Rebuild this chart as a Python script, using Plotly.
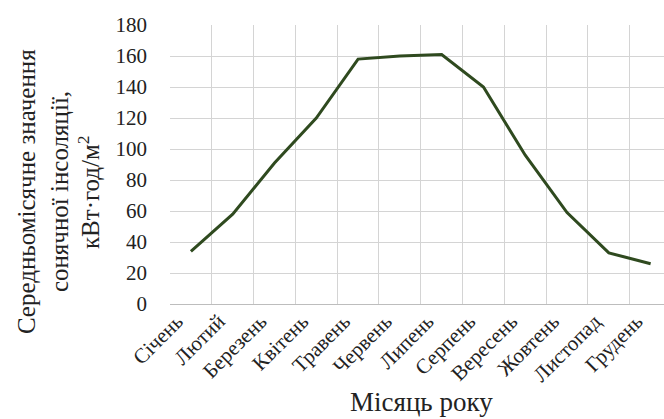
import plotly.graph_objects as go

months = ["Січень", "Лютий", "Березень", "Квітень", "Травень", "Червень",
          "Липень", "Серпень", "Вересень", "Жовтень", "Листопад", "Грудень"]
insolation = [34, 58, 91, 120, 158, 160, 161, 140, 96, 59, 33, 26]
y_ticks = [0, 20, 40, 60, 80, 100, 120, 140, 160, 180]
y_title_lines = ["Середньомісячне значення", "сонячної інсоляції,", "кВт·год/м<sup>2</sup>"]

serif = "Liberation Serif, Times New Roman, serif"
txt = "#222222"

fig = go.Figure()
fig.add_trace(go.Scatter(
    x=months, y=insolation, mode="lines",
    line=dict(color="#2f4a1f", width=3),
    showlegend=False,
))

annotations = []
for line, xs in zip(y_title_lines, [-144, -111, -81]):
    annotations.append(dict(
        text=line, xref="paper", yref="paper", x=0, xshift=xs, y=0.401,
        xanchor="center", yanchor="middle", textangle=-90, showarrow=False,
        font=dict(size=25, family=serif, color=txt)))
annotations.append(dict(
    text="Місяць року", xref="paper", yref="paper",
    x=0, xshift=251, y=0, yshift=-98, xanchor="center", yanchor="middle",
    showarrow=False, font=dict(size=27, family=serif, color=txt)))

fig.update_layout(
    width=664, height=419,
    margin=dict(l=170, r=0, t=25, b=115),
    paper_bgcolor="white", plot_bgcolor="white",
    font=dict(family=serif, color=txt),
    xaxis=dict(
        type="category", tickson="boundaries",
        range=[-0.5, 11.32],
        showgrid=True, gridcolor="#d4d4d4", gridwidth=1,
        showline=False, ticks="",
        tickangle=-45, tickfont=dict(size=21, family=serif),
        ticklabelstandoff=0, ticklabelshift=-14,
    ),
    yaxis=dict(
        range=[0, 180], tickvals=y_ticks,
        showgrid=True, gridcolor="#d4d4d4", gridwidth=1,
        zeroline=True, zerolinecolor="#bdbdbd", zerolinewidth=1,
        showline=False, ticks="",
        tickfont=dict(size=21, family=serif),
        ticklabelstandoff=22,
    ),
    annotations=annotations,
)

fig.write_html("out.html")
